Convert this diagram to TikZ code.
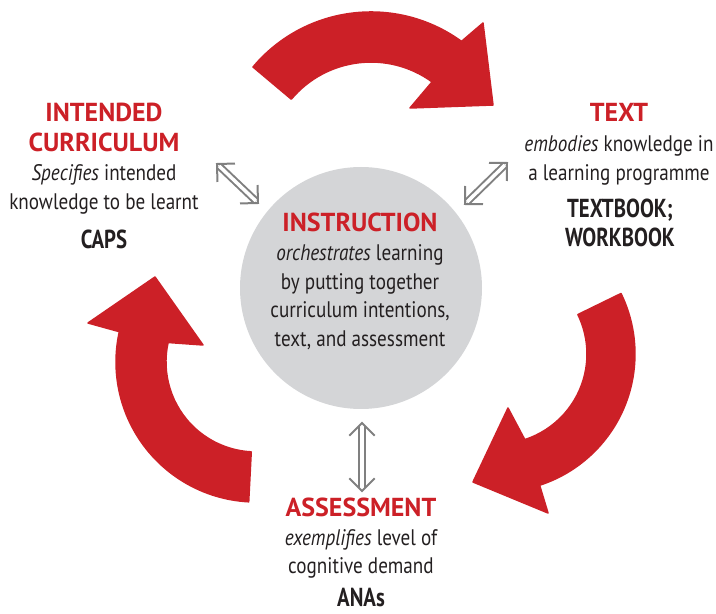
\documentclass[tikz,border=0pt]{standalone}
\usepackage{fontspec}
\setmainfont{PT Sans}[FakeStretch=0.85]
\newfontfamily\headfont{PT Sans}[FakeStretch=1.0]
\newfontfamily\labelfont{PT Sans}[FakeStretch=0.8]
\usetikzlibrary{calc}
\definecolor{cred}{RGB}{204,32,39}
\definecolor{ctext}{RGB}{35,31,32}
\definecolor{cgray}{RGB}{212,213,215}
\definecolor{carrow}{RGB}{128,128,128}
\tikzset{
  bodytxt/.style={font=\fontsize{22.5}{27}\selectfont, text=ctext, anchor=base, inner sep=0pt},
  headtxt/.style={font=\headfont\fontsize{26}{30}\selectfont\bfseries, text=cred, anchor=base, inner sep=0pt},
  labeltxt/.style={font=\labelfont\fontsize{26}{30}\selectfont\bfseries, text=ctext, anchor=base, inner sep=0pt},
  redarrow/.style={fill=cred, draw=cred, line width=1.5pt, line join=round},
  dblshaft/.style={draw=carrow, line width=2pt, double=white, double distance=3.5pt, shorten <=3pt, shorten >=3pt},
  chevron/.style={draw=carrow, line width=2pt, line join=miter}
}
\newcommand{\dblarr}[2]{%
  \draw[dblshaft] (#1) -- (#2);
  \draw[chevron] ($(#1)!18pt!45:(#2)$) -- (#1) -- ($(#1)!18pt!-45:(#2)$);
  \draw[chevron] ($(#2)!18pt!45:(#1)$) -- (#2) -- ($(#2)!18pt!-45:(#1)$);
}
\begin{document}
\begin{tikzpicture}[x=1pt,y=1pt]
\useasboundingbox (0,0) rectangle (716,614);
% centre circle
\node[circle, fill=cgray, minimum size=242pt, inner sep=0pt] (instr) at (361,326) {};
% red curved arrows
\path[redarrow] (253.0,547.0) arc[start angle=140, end angle=54, radius=154]
  -- (483,591) -- (493,509) -- (410,506) -- (432.1,532.1)
  arc[start angle=54, end angle=140, radius=104] -- cycle;
\path[redarrow] (621,320.5) arc[start angle=26, end angle=-72, radius=138]
  -- (548,101) -- (473,132) -- (508,206) -- (524.8,174.4)
  arc[start angle=-72, end angle=26, radius=90] -- cycle;
\path[redarrow] (248.7,112.2) arc[start angle=267, end angle=167.5, radius=140]
  -- (88,291) -- (155,337) -- (203,269) -- (168.1,271.5)
  arc[start angle=167.5, end angle=267, radius=90] -- cycle;
% double arrows
\coordinate (la1) at (217,450); \coordinate (la2) at (258,411);
\coordinate (ra1) at (465,410); \coordinate (ra2) at (507,451);
\coordinate (ba1) at (362,191); \coordinate (ba2) at (362,123);
\dblarr{la1}{la2}
\dblarr{ra1}{ra2}
\dblarr{ba1}{ba2}
% left block
\node[headtxt] (ic1) at (104,492) {INTENDED};
\node[headtxt] (ic2) at (104,462) {CURRICULUM};
\node[bodytxt] (ic3) at (104,433) {\textit{Specifies} intended};
\node[bodytxt] (ic4) at (104,404) {knowledge to be learnt};
\node[labeltxt] (ic5) at (104,365) {CAPS};
% right block
\node[headtxt] (tx1) at (619,492) {TEXT};
\node[bodytxt] (tx2) at (619,462) {\textit{embodies} knowledge in};
\node[bodytxt] (tx3) at (619,433) {a learning programme};
\node[labeltxt] (tx4) at (620,396) {TEXTBOOK;};
\node[labeltxt] (tx5) at (620,367) {WORKBOOK};
% centre block
\node[headtxt] (in1) at (360,382) {INSTRUCTION};
\node[bodytxt] (in2) at (360,353) {\textit{orchestrates} learning};
\node[bodytxt] (in3) at (360,324) {by putting together};
\node[bodytxt] (in4) at (360,296) {curriculum intentions,};
\node[bodytxt] (in5) at (360,267) {text, and assessment};
% bottom block
\node[headtxt] (as1) at (361,97) {ASSESSMENT};
\node[bodytxt] (as2) at (361,68) {\textit{exemplifies} level of};
\node[bodytxt] (as3) at (361,40) {cognitive demand};
\node[labeltxt] (as4) at (361,7) {ANAs};
\end{tikzpicture}
\end{document}
